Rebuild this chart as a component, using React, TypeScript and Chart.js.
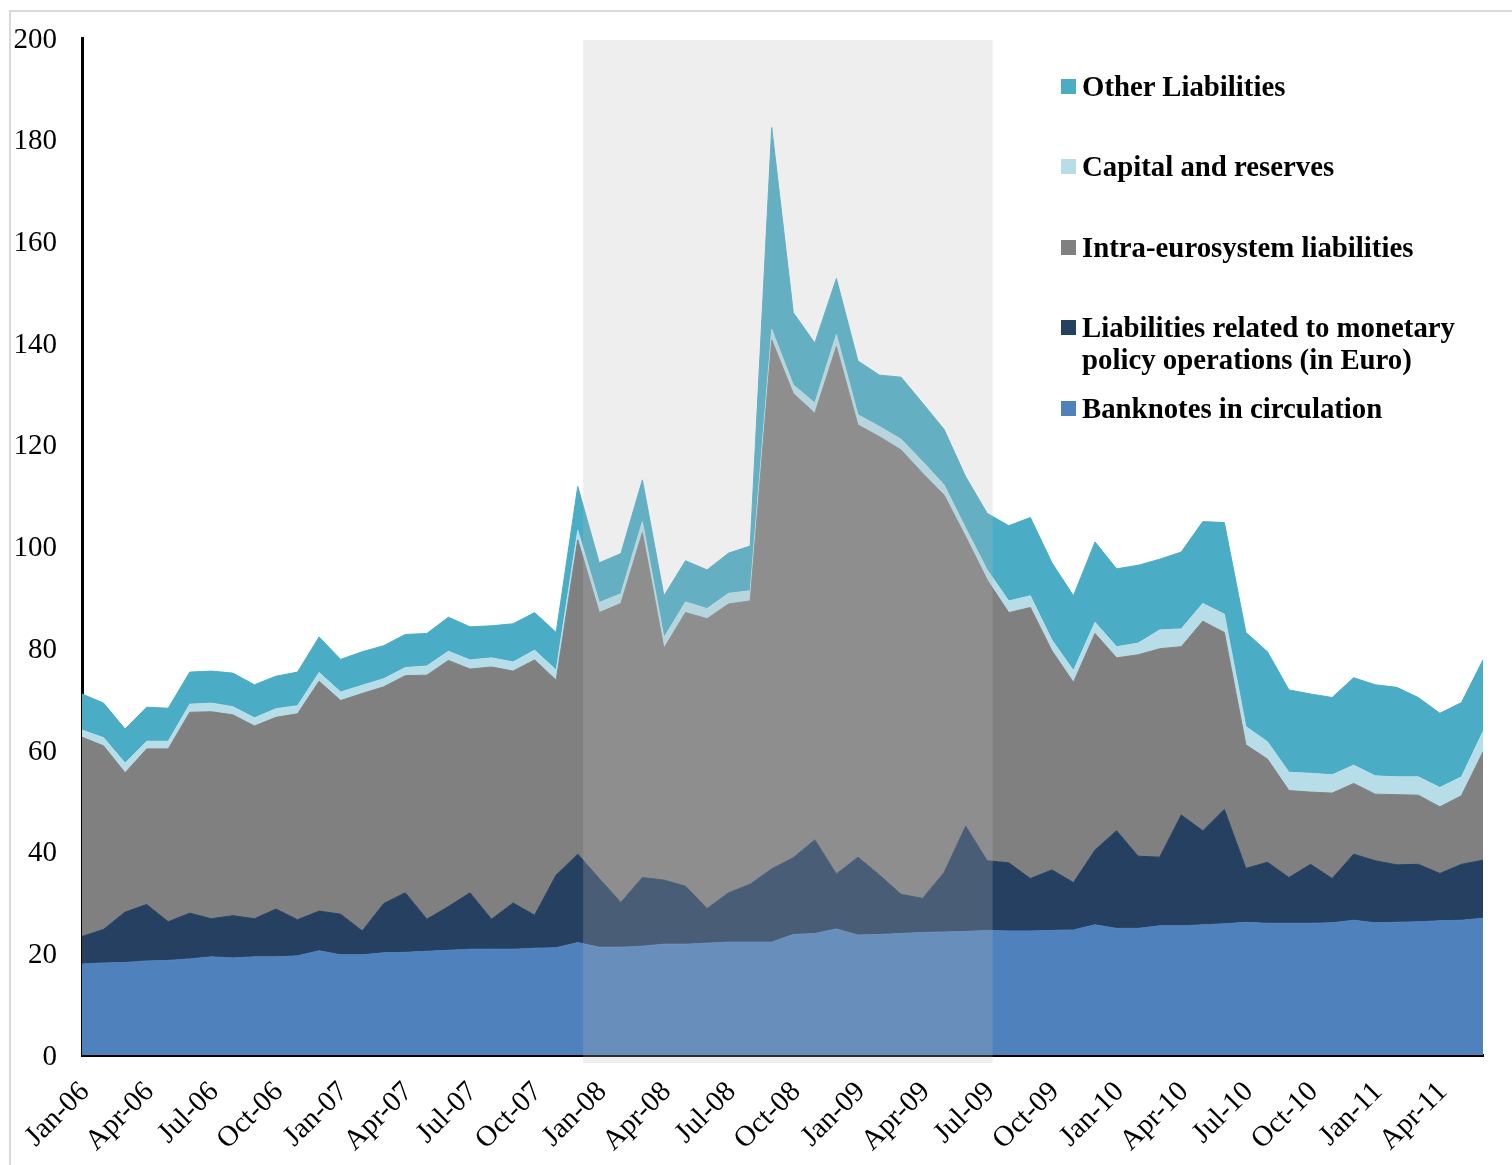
import React, { useEffect, useRef } from "react";
import { Chart, registerables } from "chart.js";

Chart.register(...registerables);

const months = [
  "Jan-06", "Feb-06", "Mar-06", "Apr-06", "May-06", "Jun-06", "Jul-06", "Aug-06", "Sep-06", "Oct-06", "Nov-06", "Dec-06",
  "Jan-07", "Feb-07", "Mar-07", "Apr-07", "May-07", "Jun-07", "Jul-07", "Aug-07", "Sep-07", "Oct-07", "Nov-07", "Dec-07",
  "Jan-08", "Feb-08", "Mar-08", "Apr-08", "May-08", "Jun-08", "Jul-08", "Aug-08", "Sep-08", "Oct-08", "Nov-08", "Dec-08",
  "Jan-09", "Feb-09", "Mar-09", "Apr-09", "May-09", "Jun-09", "Jul-09", "Aug-09", "Sep-09", "Oct-09", "Nov-09", "Dec-09",
  "Jan-10", "Feb-10", "Mar-10", "Apr-10", "May-10", "Jun-10", "Jul-10", "Aug-10", "Sep-10", "Oct-10", "Nov-10", "Dec-10",
  "Jan-11", "Feb-11", "Mar-11", "Apr-11", "May-11", "Jun-11",
];

const banknotes = [
  17.9, 18.1, 18.2, 18.5, 18.6, 18.9, 19.3, 19.1, 19.3, 19.3, 19.5, 20.5,
  19.7, 19.7, 20.1, 20.2, 20.4, 20.6, 20.8, 20.8, 20.8, 21.0, 21.1, 22.1,
  21.2, 21.2, 21.4, 21.8, 21.8, 22.0, 22.2, 22.2, 22.2, 23.7, 23.9, 24.8,
  23.6, 23.7, 23.9, 24.1, 24.2, 24.3, 24.5, 24.4, 24.4, 24.5, 24.6, 25.6,
  24.9, 24.9, 25.4, 25.4, 25.6, 25.8, 26.1, 25.9, 25.9, 25.9, 26.0, 26.5,
  26.0, 26.1, 26.2, 26.4, 26.5, 26.9,
];

const monetaryOps = [
  5.4, 6.6, 9.9, 11.1, 7.6, 9.0, 7.5, 8.3, 7.5, 9.4, 7.1, 7.8,
  8.0, 4.7, 9.7, 11.7, 6.3, 8.6, 11.1, 5.9, 9.1, 6.5, 14.3, 17.4,
  13.5, 8.8, 13.5, 12.6, 11.4, 6.8, 9.7, 11.4, 14.4, 15.1, 18.4, 10.8,
  15.3, 11.7, 7.7, 6.7, 11.7, 20.7, 13.7, 13.4, 10.3, 11.9, 9.3, 14.7,
  19.2, 14.2, 13.5, 21.8, 18.5, 22.5, 10.6, 12.0, 9.0, 11.6, 8.7, 13.0,
  12.2, 11.3, 11.3, 9.3, 11.0, 11.4,
];

const intraEurosystem = [
  39.2, 36.1, 27.4, 30.6, 34.0, 39.5, 40.7, 39.5, 37.9, 37.7, 40.5, 45.2,
  42.0, 46.7, 42.6, 42.7, 48.0, 48.4, 44.0, 49.6, 45.6, 50.2, 38.3, 61.8,
  52.3, 58.8, 67.8, 45.6, 53.8, 57.0, 56.8, 55.7, 104.0, 91.3, 83.9, 103.7,
  85.0, 86.2, 87.4, 83.6, 74.2, 56.9, 55.2, 49.2, 53.3, 43.1, 39.4, 42.6,
  34.0, 39.6, 41.0, 33.1, 41.2, 34.8, 24.3, 20.3, 17.1, 14.2, 16.8, 13.9,
  13.1, 13.8, 13.6, 13.1, 13.5, 21.3,
];

const capitalReserves = [
  1.4, 1.6, 1.9, 1.5, 1.5, 1.6, 1.7, 1.6, 1.6, 1.7, 1.6, 1.7,
  1.7, 1.6, 1.6, 1.6, 1.8, 1.8, 1.8, 1.8, 1.8, 1.9, 2.0, 1.9,
  2.0, 1.9, 2.2, 2.1, 2.1, 2.0, 2.1, 2.0, 2.1, 1.7, 2.0, 2.4,
  2.0, 2.0, 2.1, 2.3, 2.0, 1.7, 2.0, 2.3, 2.3, 2.1, 2.3, 2.2,
  2.2, 2.3, 3.7, 3.5, 3.5, 3.6, 3.6, 3.4, 3.6, 3.7, 3.6, 3.6,
  3.6, 3.5, 3.6, 3.8, 3.7, 4.0,
];

const otherLiabilities = [
  7.1, 6.8, 6.7, 6.7, 6.5, 6.3, 6.3, 6.6, 6.5, 6.4, 6.6, 7.0,
  6.4, 6.6, 6.5, 6.5, 6.4, 6.7, 6.5, 6.3, 7.5, 7.4, 7.4, 8.6,
  7.8, 7.9, 8.2, 8.2, 8.1, 7.6, 7.9, 8.8, 39.7, 14.2, 11.8, 11.0,
  10.6, 10.1, 12.2, 11.5, 10.9, 10.1, 11.1, 14.8, 15.4, 15.2, 14.7, 15.8,
  15.3, 15.3, 13.9, 15.1, 16.1, 18.0, 18.5, 17.7, 16.2, 15.6, 15.2, 17.2,
  17.9, 17.6, 15.6, 14.6, 14.6, 14.1,
];

const seriesNames = [
  "Banknotes in circulation",
  "Liabilities related to monetary policy operations (in Euro)",
  "Intra-eurosystem liabilities",
  "Capital and reserves",
  "Other Liabilities",
];
const seriesColors = ["#4f81bd", "#254061", "#808080", "#b7dee8", "#4bacc6"];

// shaded crisis period (category positions)
const shadeFrom = "Dec-07";
const shadeTo = "Jul-09";
const shadeShift = 0.25;
const shadeValueRange = [199.6, -1.6];

const yTicks = [0, 200, 20];

export default function App() {
  const ref = useRef<HTMLCanvasElement>(null);

  useEffect(() => {
    const canvas = ref.current;
    if (!canvas) return;
    const shadePlugin = {
      id: "shade",
      afterDraw(chart: any) {
        const xs = chart.scales.x;
        const ys = chart.scales.y;
        const c = chart.ctx;
        const x0 = xs.getPixelForValue(months.indexOf(shadeFrom) + shadeShift);
        const x1 = xs.getPixelForValue(months.indexOf(shadeTo) + shadeShift);
        const y0 = ys.getPixelForValue(shadeValueRange[0]);
        const y1 = ys.getPixelForValue(shadeValueRange[1]);
        c.save();
        c.fillStyle = "rgba(185,185,185,0.244)";
        c.fillRect(x0, y0, x1 - x0, y1 - y0);
        c.restore();
      },
    };

    const values = [banknotes, monetaryOps, intraEurosystem, capitalReserves, otherLiabilities];
    const chart = new Chart(canvas, {
      type: "line",
      data: {
        labels: months,
        datasets: values.map((v, i) => ({
          label: seriesNames[i],
          data: v,
          backgroundColor: seriesColors[i],
          borderColor: seriesColors[i],
          borderWidth: 1,
          pointRadius: 0,
          tension: 0,
          fill: i === 0 ? "origin" : "-1",
        })),
      },
      options: {
        responsive: false,
        animation: false,
        devicePixelRatio: 1,
        layout: { padding: { left: 0, right: 29, top: 38, bottom: 0 } },
        plugins: { legend: { display: false }, tooltip: { enabled: false } },
        scales: {
          x: {
            grid: { display: false, drawTicks: false },
            border: { display: true, color: "#000000", width: 3 },
            ticks: {
              autoSkip: false,
              maxRotation: 45,
              minRotation: 45,
              padding: 20,
              labelOffset: 3,
              color: "#000000",
              font: { family: "'Liberation Serif', serif", size: 29 },
              callback: (_v: any, idx: number) => (idx % 3 === 0 ? months[idx] : ""),
            },
            afterFit: (s: any) => {
              s.height = 110;
              s.paddingLeft = 0;
              s.paddingRight = 0;
            },
          },
          y: {
            stacked: true,
            min: yTicks[0],
            max: yTicks[1],
            grid: { display: false, drawTicks: false },
            border: { display: true, color: "#000000", width: 3 },
            ticks: {
              stepSize: yTicks[2],
              padding: 25,
              labelOffset: 2,
              color: "#000000",
              font: { family: "'Liberation Serif', serif", size: 29 },
            },
            afterFit: (s: any) => {
              s.width = 82;
              s.paddingTop = 0;
              s.paddingBottom = 0;
            },
          },
        },
      },
      plugins: [shadePlugin],
    });
    return () => chart.destroy();
  }, []);

  const legendRows = [
    { idx: 4, lines: ["Other Liabilities"], top: 86 },
    { idx: 3, lines: ["Capital and reserves"], top: 166 },
    { idx: 2, lines: ["Intra-eurosystem liabilities"], top: 247 },
    { idx: 1, lines: ["Liabilities related to monetary", "policy operations (in Euro)"], top: 327 },
    { idx: 0, lines: ["Banknotes in circulation"], top: 408 },
  ];

  return (
    <div style={{ position: "absolute", left: 0, top: 0, width: 1512, height: 1165, background: "#fff", overflow: "hidden" }}>
      <div
        style={{
          position: "absolute",
          left: 9,
          top: 10,
          width: 1600,
          height: 1300,
          borderLeft: "2px solid #d9d9d9",
          borderTop: "2px solid #d9d9d9",
        }}
      />
      <canvas ref={ref} width={1512} height={1165} style={{ position: "absolute", left: 0, top: 0 }} />
      {legendRows.map((r) => (
        <div key={r.idx} style={{ position: "absolute", left: 1061, top: r.top - 16 }}>
          <div
            style={{
              position: "absolute",
              left: 0,
              top: 9,
              width: 15,
              height: 15,
              background: seriesColors[r.idx],
            }}
          />
          <div
            style={{
              position: "absolute",
              left: 21,
              top: 0,
              whiteSpace: "nowrap",
              fontFamily: "'Liberation Serif', serif",
              fontWeight: "bold",
              fontSize: 28.8,
              lineHeight: "32px",
              color: "#000",
            }}
          >
            {r.lines.map((l, k) => (
              <div key={k}>{l}</div>
            ))}
          </div>
        </div>
      ))}
    </div>
  );
}
